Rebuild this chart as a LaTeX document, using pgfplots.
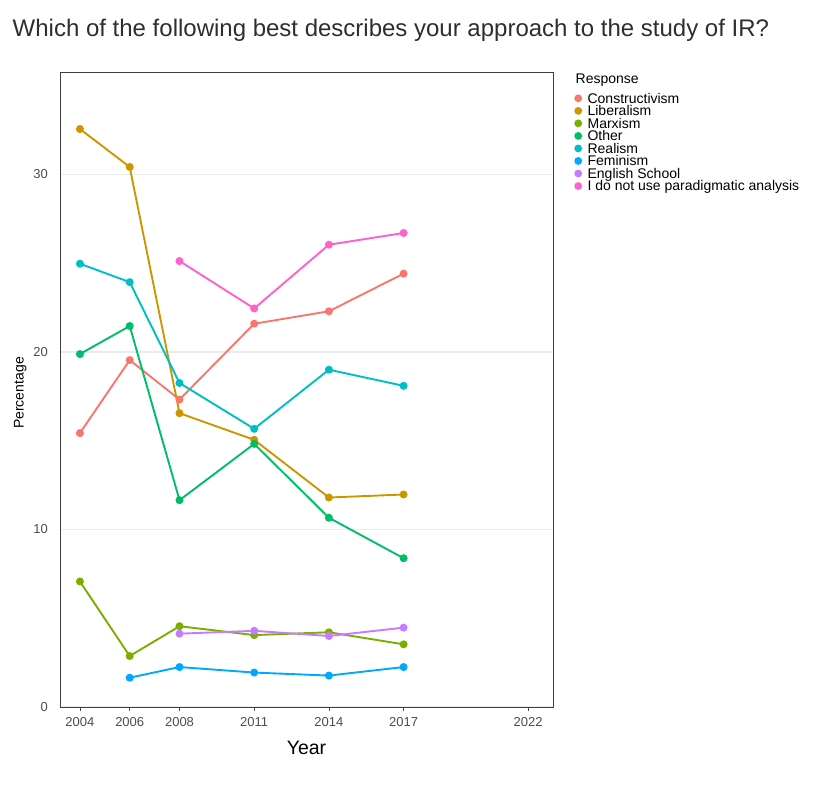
\documentclass[border=0pt]{standalone}
\usepackage{pgfplots}
\pgfplotsset{compat=1.18}
\usepackage{fontspec}
\setmainfont{Liberation Sans}
\definecolor{cCon}{HTML}{F8766D}
\definecolor{cLib}{HTML}{CD9600}
\definecolor{cMar}{HTML}{7CAE00}
\definecolor{cOth}{HTML}{00BE67}
\definecolor{cRea}{HTML}{00BFC4}
\definecolor{cFem}{HTML}{00A9FF}
\definecolor{cEng}{HTML}{C77CFF}
\definecolor{cNon}{HTML}{FF61CC}
\definecolor{tickgray}{HTML}{4D4D4D}
\definecolor{gridgray}{HTML}{EBEBEB}
\begin{document}
\begin{tikzpicture}[x=1pt,y=1pt]
\useasboundingbox (0,0) rectangle (820,787);
\node[anchor=base west, inner sep=0pt, font=\fontsize{24}{28}\selectfont, text=black!82] at (12.5,750) {Which of the following best describes your approach to the study of IR?};
\node[anchor=base, inner sep=0pt, font=\fontsize{19.5}{23}\selectfont] at (306.5,32.7) {Year};
\node[anchor=base, rotate=90, inner sep=0pt, font=\fontsize{14}{17}\selectfont] at (23.5,394) {Percentage};
\node[anchor=base west, inner sep=0pt, font=\fontsize{14}{17}\selectfont] at (575.5,703) {Response};
\begin{axis}[
  at={(60pt,80pt)}, anchor=south west,
  scale only axis, width=493pt, height=635pt,
  xmin=2003.2, xmax=2023.0, ymin=0, ymax=35.77,
  xtick={2004,2006,2008,2011,2014,2017,2022},
  ytick={0,10,20,30},
  xtick pos=lower,
  /pgf/number format/1000 sep={},
  /pgf/number format/assume math mode=true,
  tick align=outside, major tick length=4.5pt,
  xtick style={draw=tickgray, line width=0.8pt},
  ytick style={draw=none},
  ymajorgrids, grid style={draw=gridgray, line width=1.3pt},
  axis line style={draw=black!75, line width=0.9pt},
  tick label style={font=\fontsize{13}{15}\selectfont, text=tickgray},
  xticklabel style={inner sep=0pt, yshift=-6pt},
  yticklabel style={inner sep=0pt, xshift=-7.5pt},
  every axis plot/.append style={line width=1.9pt, mark=*, mark size=3pt},
  legend style={at={(1.0434,0.9665)}, anchor=north west, draw=none, fill=none,
    inner sep=0pt, outer sep=0pt, row sep=-0.8pt, column sep=5.5pt,
    font=\fontsize{14}{16}\selectfont,
    nodes={inner sep=0pt, text height=10pt, text depth=3.33pt}},
  legend cell align=left,
  legend image code/.code={\fill (0pt,1.6pt) circle (2.9pt);},
]
\addplot[color=cCon] coordinates {(2004,15.43) (2006,19.54) (2008,17.32) (2011,21.59) (2014,22.29) (2017,24.41)};
\addlegendentry{Constructivism}
\addplot[color=cLib] coordinates {(2004,32.56) (2006,30.42) (2008,16.55) (2011,15.05) (2014,11.80) (2017,11.97)};
\addlegendentry{Liberalism}
\addplot[color=cMar] coordinates {(2004,7.07) (2006,2.87) (2008,4.55) (2011,4.05) (2014,4.21) (2017,3.53)};
\addlegendentry{Marxism}
\addplot[color=cOth] coordinates {(2004,19.88) (2006,21.46) (2008,11.65) (2011,14.82) (2014,10.66) (2017,8.38)};
\addlegendentry{Other}
\addplot[color=cRea] coordinates {(2004,24.97) (2006,23.93) (2008,18.25) (2011,15.67) (2014,19.00) (2017,18.09)};
\addlegendentry{Realism}
\addplot[color=cFem] coordinates {(2006,1.65) (2008,2.25) (2011,1.94) (2014,1.77) (2017,2.25)};
\addlegendentry{Feminism}
\addplot[color=cEng] coordinates {(2008,4.13) (2011,4.29) (2014,4.00) (2017,4.47)};
\addlegendentry{English School}
\addplot[color=cNon] coordinates {(2008,25.12) (2011,22.45) (2014,26.04) (2017,26.70)};
\addlegendentry{I do not use paradigmatic analysis}
\end{axis}
\end{tikzpicture}
\end{document}
